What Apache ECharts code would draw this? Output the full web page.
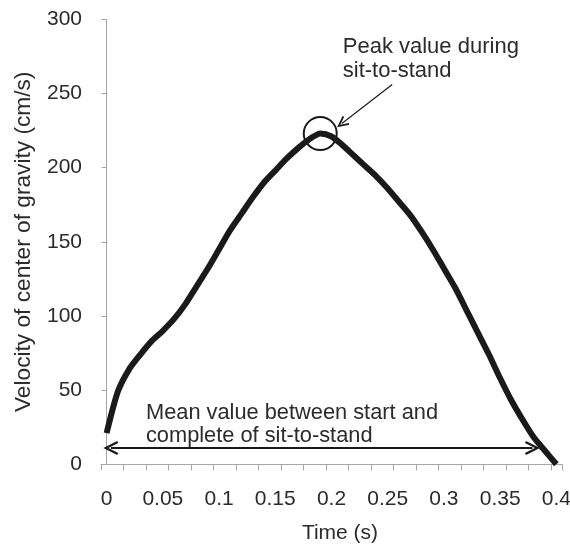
<!DOCTYPE html>
<html>
<head>
<meta charset="utf-8">
<script src="https://cdn.jsdelivr.net/npm/echarts@6/dist/echarts.min.js"></script>
<style>
html,body{margin:0;padding:0;background:#fff;}
#chart{width:570px;height:544px;}
</style>
</head>
<body>
<div id="chart"></div>
<script>
// Time categories (s)
const timeCategories = ['0','0.01','0.02','0.03','0.04','0.05','0.06','0.07','0.08','0.09',
  '0.1','0.11','0.12','0.13','0.14','0.15','0.16','0.17','0.18','0.19',
  '0.2','0.21','0.22','0.23','0.24','0.25','0.26','0.27','0.28','0.29',
  '0.3','0.31','0.32','0.33','0.34','0.35','0.36','0.37','0.38','0.39','0.4'];
// Velocity of center of gravity (cm/s)
const velocity = [21,49,64,74,83,90,98,108,120,132,
  145,158,169,180,190,198,206,213,219,223,
  221,215,208,201,194,186,177,168,157,145,
  132,119,104,89,74,58,43,30,18,9,0];
const yTicks = [0,50,100,150,200,250,300];

// annotation anchors in data units [time, velocity]
const peakPoint = [0.19, 223];
const peakArrowFrom = [0.254, 256];
const peakArrowTo = [0.2092, 229.7];
const peakTextAt = [0.210, 273];
const meanArrowFrom = [0.0037, 11];
const meanArrowTo = [0.3787, 11];
const meanTextAt = [0.035, 27];

const txt = '#2b2b2b';
const axisGray = '#a6a6a6';
const fs = 21;
const chevron = 'path://M0,10 L5,0 L10,10 L8.5,10.8 L5,3.6 L1.5,10.8 Z';

const chart = echarts.init(document.getElementById('chart'));
chart.setOption({
  animation: false,
  grid: {left: 101, right: 8, top: 19.3, bottom: 79.7, containLabel: false, outerBoundsMode: 'none'},
  xAxis: [{
    type: 'category',
    data: timeCategories,
    boundaryGap: true,
    axisLine: {lineStyle: {color: axisGray, width: 1}},
    axisTick: {show: true, interval: 1, length: 6, lineStyle: {color: axisGray}},
    axisLabel: {interval: 4, margin: 24, color: txt, fontSize: fs, fontFamily: 'Liberation Sans'},
    name: 'Time (s)',
    nameLocation: 'middle',
    nameGap: 58,
    nameTextStyle: {color: txt, fontSize: 21, fontFamily: 'Liberation Sans', padding: [0,0,0,17]},
    splitLine: {show: false}
  }, {
    type: 'value',
    min: -0.005, max: 0.405,
    show: false
  }],
  yAxis: {
    type: 'value',
    min: yTicks[0], max: yTicks[yTicks.length-1], interval: 50,
    axisLine: {show: true, lineStyle: {color: axisGray, width: 1}},
    axisTick: {show: true, length: 5, lineStyle: {color: axisGray}},
    axisLabel: {margin: 19, color: txt, fontSize: fs, fontFamily: 'Liberation Sans'},
    splitLine: {show: false},
    name: 'Velocity of center of gravity (cm/s)',
    nameLocation: 'middle',
    nameGap: 66,
    nameTextStyle: {color: txt, fontSize: 22.7, fontFamily: 'Liberation Sans'}
  },
  series: [{
    type: 'line',
    xAxisIndex: 0,
    data: velocity,
    symbol: 'none',
    smooth: 0.25,
    lineStyle: {color: '#1a1a1a', width: 6, cap: 'butt'}
  }, {
    type: 'line',
    xAxisIndex: 1,
    data: [],
    symbol: 'none',
    silent: true,
    markPoint: {
      silent: true,
      data: [{
        coord: peakPoint,
        symbol: 'circle',
        symbolSize: 33,
        itemStyle: {color: 'rgba(0,0,0,0)', borderColor: '#1a1a1a', borderWidth: 2},
        label: {show: false}
      }, {
        coord: peakTextAt,
        symbol: 'circle', symbolSize: 0,
        label: {show: true, position: 'right', distance: 0, color: txt, fontSize: 22,
          fontFamily: 'Liberation Sans', lineHeight: 24,
          formatter: 'Peak value during\nsit-to-stand'}
      }, {
        coord: meanTextAt,
        symbol: 'circle', symbolSize: 0,
        label: {show: true, position: 'right', distance: 0, color: txt, fontSize: 21.8,
          fontFamily: 'Liberation Sans', lineHeight: 23,
          formatter: 'Mean value between start and\ncomplete of sit-to-stand'}
      }]
    },
    markLine: {
      silent: true,
      label: {show: false},
      data: [
        [{coord: peakArrowFrom, symbol: 'none', lineStyle: {color: '#1a1a1a', width: 1.2, type: 'solid'}},
         {coord: peakArrowTo, symbol: chevron, symbolSize: [11, 12]}],
        [{coord: meanArrowFrom, symbol: chevron, symbolSize: [14, 15], lineStyle: {color: '#1a1a1a', width: 2, type: 'solid'}},
         {coord: meanArrowTo, symbol: chevron, symbolSize: [14, 15]}]
      ]
    }
  }]
});
</script>
</body>
</html>
